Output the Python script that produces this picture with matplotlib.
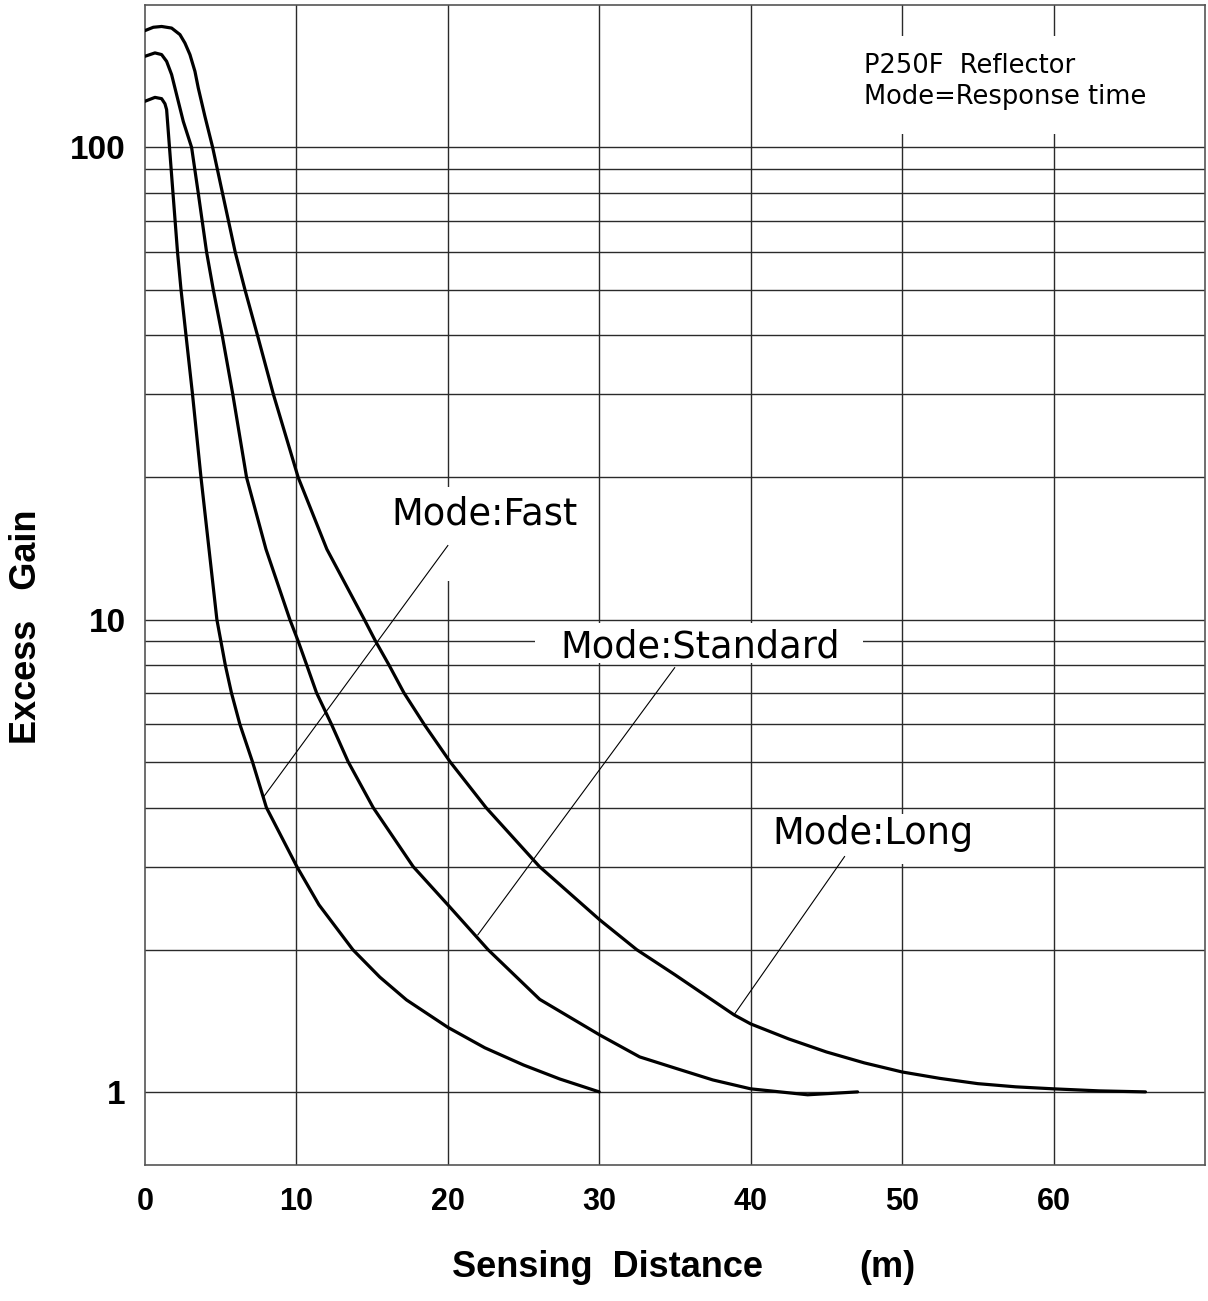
import matplotlib
matplotlib.use("Agg")
import matplotlib.pyplot as plt
from matplotlib.patches import Rectangle
from matplotlib.ticker import FixedLocator, NullFormatter

# curve readings: sensing distance (m) vs excess gain
fast_d = [0, 0.66, 1.10, 1.32, 1.43, 1.62, 1.85, 2.15, 2.38, 2.71, 3.14, 3.70, 4.75, 5.31,
          5.71, 6.27, 7.10, 8.02, 10.03, 11.49, 13.73, 15.51, 17.27, 20.0, 22.44, 25.0, 27.39, 30.0]
fast_g = [125.2, 127.6, 126.8, 123.7, 120.2, 100, 80, 60, 50, 40, 30, 20, 10, 8,
          7, 6, 5, 4, 3, 2.49, 2, 1.75, 1.566, 1.37, 1.24, 1.14, 1.065, 1.0]

std_d = [0, 0.66, 1.10, 1.43, 1.76, 2.09, 2.53, 3.08, 3.52, 4.07, 4.51, 5.1, 5.8, 6.71,
         7.99, 9.57, 10.12, 10.69, 11.33, 12.32, 13.42, 15.07, 17.71, 20.0, 22.66, 26.07,
         30.03, 32.67, 35.12, 37.5, 40.0, 43.76, 47.06]
std_g = [155.9, 158.5, 157.2, 152.1, 142.6, 129.3, 113.5, 100, 80, 60, 50, 40, 30, 20,
         14.1, 10, 9, 8, 7, 6, 5, 4, 3, 2.49, 2, 1.57,
         1.32, 1.186, 1.12, 1.06, 1.015, 0.986, 1.0]

long_d = [0, 0.55, 1.10, 1.76, 2.31, 2.64, 2.97, 3.30, 3.52, 3.96, 4.47, 5.12, 5.96, 6.60,
          7.43, 8.48, 10.12, 12.01, 14.49, 15.23, 16.13, 17.10, 18.44, 20.15, 22.52, 26.05,
          30.03, 32.48, 35.0, 38.9, 40.0, 42.5, 45.0, 47.5, 50.0, 52.5, 55.0, 57.5, 60.0,
          63.0, 66.07]
long_g = [176.7, 179.6, 180.3, 178.9, 173.3, 166.3, 157.2, 144.9, 133.6, 116.3, 100, 80, 60, 50,
          40, 30, 20, 14.1, 10, 9, 8, 7, 6, 5, 4, 3,
          2.314, 2.0, 1.77, 1.456, 1.393, 1.295, 1.215, 1.152, 1.102, 1.068, 1.041, 1.025, 1.015,
          1.005, 1.0]

x_ticks = [0, 10, 20, 30, 40, 50, 60]
y_ticks = [1, 10, 100]
y_grid = [1, 2, 3, 4, 5, 6, 7, 8, 9, 10, 20, 30, 40, 50, 60, 70, 80, 90, 100]

note_font = "DejaVu Sans"

fig = plt.figure(figsize=(12.08, 13.01), dpi=100)
ax = fig.add_axes([0.12, 0.1045, 0.8775, 0.8915])
ax.set_yscale("log")
ax.set_xlim(0, 70)
ax.set_ylim(0.7, 200)

# grid lines
for gx in x_ticks[1:]:
    ax.axvline(gx, color="#2a2a2a", lw=1.0, zorder=1)
for gy in y_grid:
    ax.axhline(gy, color="#2a2a2a", lw=1.0, zorder=1)

# white boxes behind the labels hide the grid
boxes = [(15.84, 12.1, 29.7, 19.1), (25.74, 8.1, 47.4, 9.85),
         (40.6, 3.04, 55.6, 3.88), (46.5, 106.6, 70, 172)]
for x0, y0, x1, y1 in boxes:
    ax.add_patch(Rectangle((x0, y0), x1 - x0, y1 - y0, facecolor="white",
                           edgecolor="none", zorder=2))

for d, g in [(fast_d, fast_g), (std_d, std_g), (long_d, long_g)]:
    ax.plot(d, g, color="black", lw=2.3, zorder=4,
            solid_joinstyle="round", solid_capstyle="round")

# leader lines
ax.plot([7.85, 20.0], [4.22, 14.35], color="black", lw=0.8, zorder=3)
ax.plot([21.98, 34.98], [2.15, 7.91], color="black", lw=0.8, zorder=3)
ax.plot([38.9, 46.2], [1.456, 3.15], color="black", lw=0.8, zorder=3)

ax.text(16.3, 16.7, "Mode:Fast", fontsize=26.5, family=note_font,
        ha="left", va="center", zorder=5)
ax.text(27.4, 8.76, "Mode:Standard", fontsize=26.5, family=note_font,
        ha="left", va="center", zorder=5)
ax.text(41.4, 3.52, "Mode:Long", fontsize=26.5, family=note_font,
        ha="left", va="center", zorder=5)
ax.text(47.5, 149, "P250F  Reflector", fontsize=18.5, family=note_font,
        ha="left", va="center", zorder=5)
ax.text(47.5, 128, "Mode=Response time", fontsize=18.5, family=note_font,
        ha="left", va="center", zorder=5)

ax.xaxis.set_major_locator(FixedLocator(x_ticks))
ax.yaxis.set_major_locator(FixedLocator(y_ticks))
ax.yaxis.set_minor_locator(FixedLocator([]))
ax.yaxis.set_minor_formatter(NullFormatter())
ax.set_yticklabels([str(v) for v in y_ticks], family="Liberation Sans",
                   fontweight="bold", fontsize=24)
ax.set_xticklabels([str(v) for v in x_ticks], family=["Liberation Sans Narrow", "Liberation Sans"],
                   fontweight="bold", fontsize=22)
ax.tick_params(axis="both", length=0)
ax.tick_params(axis="y", pad=14)
ax.tick_params(axis="x", pad=16)

for sp in ax.spines.values():
    sp.set_color("#555555")
    sp.set_linewidth(1.2)

fig.text(608 / 1208, 1 - 1277 / 1301, "Sensing  Distance", fontsize=26,
         family="Liberation Sans", fontweight="bold", ha="center", va="baseline")
fig.text(887 / 1208, 1 - 1277 / 1301, "(m)", fontsize=26,
         family="Liberation Sans", fontweight="bold", ha="center", va="baseline")
fig.text(27 / 1208, 1 - 627 / 1301, "Excess   Gain", fontsize=26, rotation=90,
         family="Liberation Sans", fontweight="bold", ha="center", va="center")

fig.savefig("out.png", dpi=100)
